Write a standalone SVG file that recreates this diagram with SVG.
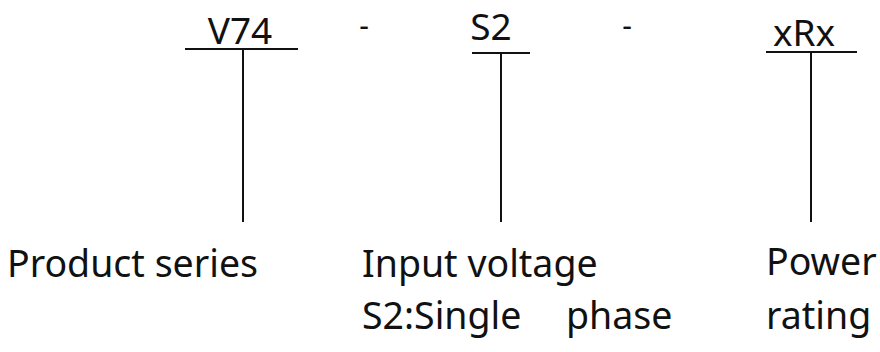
<svg xmlns="http://www.w3.org/2000/svg" width="880" height="352" viewBox="0 0 880 352">
<style>
.t{font-family:"Noto Sans","Liberation Sans",sans-serif;fill:#111;}
.code{font-size:37px;}
.dash{font-size:30px;}
.lbl{font-size:37.5px;}
.ln{stroke:#111;stroke-width:2;fill:none;}
</style>
<rect width="880" height="352" fill="#fff"/>
<g id="node-series">
<text class="t code" x="240" y="44" text-anchor="middle">V74</text>
<text class="t lbl" x="7" y="277">Product series</text>
</g>
<g id="sep1"><text class="t dash" x="364" y="36" text-anchor="middle">-</text></g>
<g id="node-voltage">
<text class="t code" x="491" y="40" text-anchor="middle">S2</text>
<text class="t lbl" x="362" y="277">Input voltage</text>
<text class="t lbl" x="362" y="329">S2:Single<tspan x="566">phase</tspan></text>
</g>
<g id="sep2"><text class="t dash" x="627" y="36" text-anchor="middle">-</text></g>
<g id="node-power">
<text class="t code" x="804" y="46" text-anchor="middle">xRx</text>
<text class="t lbl" x="766" y="275">Power</text>
<text class="t lbl" x="766" y="329">rating</text>
</g>
<g id="connectors">
<line class="ln" x1="185" y1="49" x2="298" y2="49"/>
<line class="ln" x1="243" y1="49" x2="243" y2="222"/>
<line class="ln" x1="472" y1="53" x2="530" y2="53"/>
<line class="ln" x1="501" y1="53" x2="501" y2="222"/>
<line class="ln" x1="766" y1="52" x2="857" y2="52"/>
<line class="ln" x1="811" y1="52" x2="811" y2="222"/>
</g>
</svg>
